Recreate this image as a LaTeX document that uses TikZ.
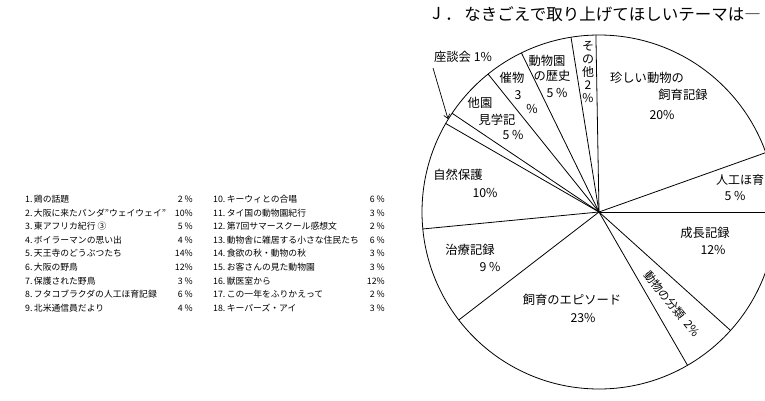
\documentclass[tikz,border=0pt]{standalone}
\usepackage{fontspec}
\setmainfont{Noto Sans CJK JP}
\usetikzlibrary{arrows.meta}
\begin{document}
\begin{tikzpicture}[x=1pt,y=-1pt,
  lst/.style={anchor=base west,font=\fontsize{8.8}{9}\selectfont,inner sep=0},
  pct/.style={anchor=base east,font=\fontsize{8.8}{9}\selectfont,inner sep=0},
  lbl/.style={font=\fontsize{12.3}{14}\selectfont,inner sep=0,align=center},
  edge/.style={line width=0.8pt},
  arr/.style={line width=0.7pt,-{Straight Barb[length=4pt,width=6pt]}}]
\useasboundingbox (0,0) rectangle (765,401);
\clip (0,0) rectangle (765,401);

% title
\node[anchor=west,inner sep=0,font=\fontsize{16.5}{18}\selectfont] (tj) at (432,14) {J};
\node[anchor=west,inner sep=0,font=\fontsize{16.5}{18}\selectfont] (title) at (445,14) {．\,なきごえで取り上げてほしいテーマは―};

% list, column 1
\foreach \i/\t/\p in {1/鶏の話題/2 \%,2/大阪に来たパンダ"ウェイウェイ"/10\%,3/東アフリカ紀行 ③/5 \%,4/ボイラーマンの思い出/4 \%,5/天王寺のどうぶつたち/14\%,6/大阪の野鳥/12\%,7/保護された野鳥/3 \%,8/フタコブラクダの人工ほ育記録/6 \%,9/北米通信員だより/4 \%}{
  \node[lst] (la\i) at (25,{202.5+13.6*(\i-1)}) {\i.\,\t};
  \node[pct] (pa\i) at (193,{202.5+13.6*(\i-1)}) {\p};
}
% list, column 2
\foreach \i/\t/\p in {10/キーウィとの合唱/6 \%,11/タイ国の動物園紀行/3 \%,12/第7回サマースクール感想文/2 \%,13/動物舎に雑居する小さな住民たち/6 \%,14/食欲の秋・動物の秋/3 \%,15/お客さんの見た動物園/3 \%,16/獣医室から/12\%,17/この一年をふりかえって/2 \%,18/キーパーズ・アイ/3 \%}{
  \node[lst] (lb\i) at (213,{202.5+13.6*(\i-10)}) {\i.\,\t};
  \node[pct] (pb\i) at (385,{202.5+13.6*(\i-10)}) {\p};
}

% pie
\coordinate (c) at (599,212);
\draw[edge] (c) circle[radius=177];
\foreach \a in {91,99.1,116,128.8,146.1,150,185.5,217.6,300,318,0,19.6}{
  \draw[edge] (c) -- ({599+177*cos(\a)},{212-177*sin(\a)});
}

% pie labels
\node[lbl] (zd) at (463,57) {座談会\ 1\%};
\coordinate (zdfrom) at (433,68);
\coordinate (zdto) at (448,119);
\draw[arr] (zdfrom) -- (zdto);

\node[lbl] (sa1) at (512,78) {催物};
\node[lbl] (sa2) at (518,95) {3};
\node[lbl] (sa3) at (532,109) {\%};

\node[lbl] (re1) at (547,61) {動物園};
\node[lbl] (re2) at (552,76) {の歴史};
\node[lbl] (re3) at (557,93) {5 \%};

\node[lbl,font=\fontsize{12}{12.8}\selectfont] (ot) at (588,72) {そ\\の\\他\\2\\\%};

\node[lbl] (ta1) at (480,103) {他園};
\node[lbl] (ta2) at (497,120) {見学記};
\node[lbl] (ta3) at (513,135) {5 \%};

\node[lbl] (sh1) at (458,175) {自然保護};
\node[lbl] (sh2) at (485,193) {10\%};

\node[lbl] (me1) at (647,78) {珍しい動物の};
\node[lbl] (me2) at (683,95) {飼育記録};
\node[lbl] (me3) at (662,115) {20\%};

\node[lbl,anchor=west,font=\fontsize{12}{14}\selectfont] (ji1) at (716,180) {人工ほ育};
\node[lbl] (ji2) at (735,196) {5 \%};

\node[lbl] (se1) at (705,233) {成長記録};
\node[lbl] (se2) at (713,250) {12\%};

\node[lbl] (ch1) at (470,250) {治療記録};
\node[lbl] (ch2) at (490,267) {9 \%};

\node[lbl] (ep1) at (572,300) {飼育のエピソード};
\node[lbl] (ep2) at (583,318) {23\%};

\node[lbl,font=\fontsize{11.5}{13}\selectfont,rotate=-51] (bu) at (672,304) {動物の分類\enspace 2\%};
\end{tikzpicture}
\end{document}
